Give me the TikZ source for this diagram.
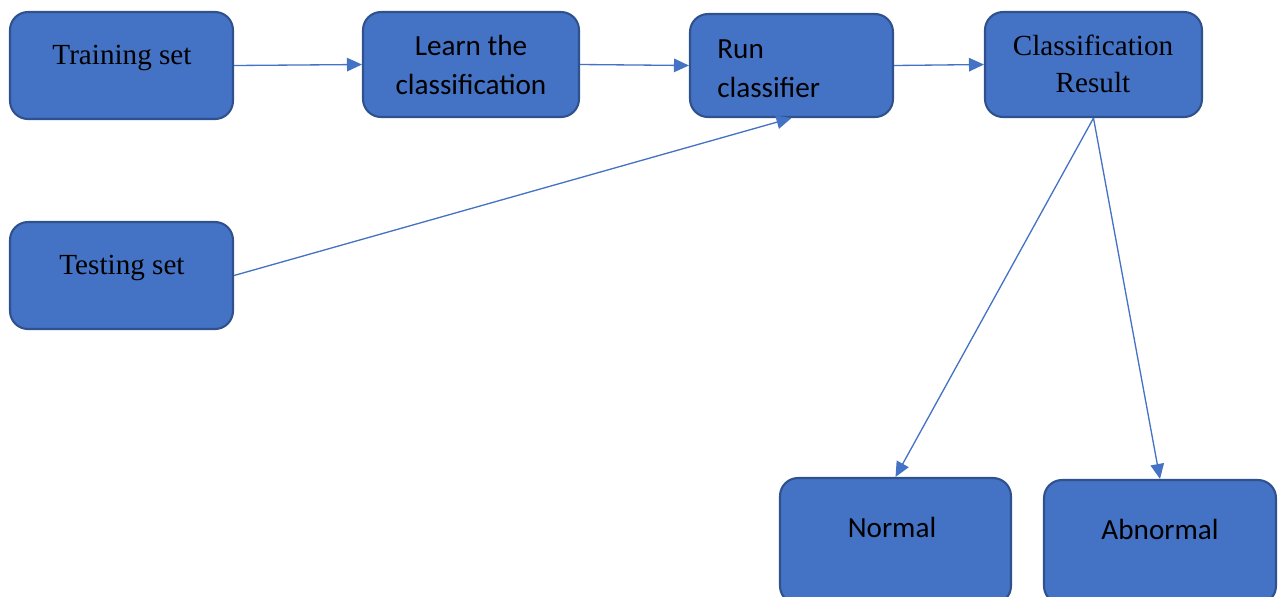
\documentclass[tikz,border=0pt]{standalone}
\usepackage{fontspec}
\setmainfont{Liberation Serif}
\newfontfamily\calibrifont{Carlito}
\usetikzlibrary{arrows.meta, calc}
\definecolor{boxfill}{RGB}{68,114,196}
\definecolor{boxline}{RGB}{47,82,143}
\definecolor{flowcol}{RGB}{68,114,196}
\tikzset{
  stepbox/.style={draw=boxline, fill=boxfill, line width=1.2pt,
    rounded corners=0.36cm, inner sep=0pt},
  serifText/.style={font=\fontsize{16.6}{21}\selectfont, align=center, anchor=base, inner sep=0pt},
  sansText/.style={font=\calibrifont\fontsize{16.6}{22}\selectfont, align=center, anchor=base, inner sep=0pt},
  flow/.style={flowcol, line width=0.75pt, -{Triangle[length=0.3cm, width=0.27cm]}}
}

\begin{document}
\begin{tikzpicture}[x=0.02cm, y=-0.02cm]

  % --- page, 1279 x 596 px --------------------------------------------------
  \useasboundingbox (0,0) rectangle (1279,596);
  \clip (0,0) rectangle (1279,596);

  % --- boxes ---------------------------------------------------------------
  \node[stepbox, minimum width=4.46cm, minimum height=2.14cm] (train)  at (121.5,65.5)  {};
  \node[stepbox, minimum width=4.32cm, minimum height=2.10cm] (learn)  at (471,64.5)    {};
  \node[stepbox, minimum width=4.06cm, minimum height=2.06cm] (run)    at (791.5,65.5)  {};
  \node[stepbox, minimum width=4.34cm, minimum height=2.10cm] (result) at (1093.5,64.5) {};
  \node[stepbox, minimum width=4.46cm, minimum height=2.14cm] (test)   at (121.5,275.5) {};
  \node[stepbox, minimum width=4.62cm, minimum height=2.52cm] (normal) at (895.5,541)   {};
  \node[stepbox, minimum width=4.64cm, minimum height=2.48cm] (abnorm) at (1160,542)    {};

  % --- box texts (base = baseline of the last line) -------------------------
  \node[serifText] (trainTxt)  at (122,64)   {Training set};
  \node[sansText]  (learnTxt)  at (471,94)   {Learn the\\classification};
  \node[sansText, align=left, anchor=base west] (runTxt) at (717,97) {Run\\classifier};
  \node[serifText] (resultTxt) at (1093,92)  {Classification\\Result};
  \node[serifText] (testTxt)   at (122,274)  {Testing set};
  \node[sansText]  (normalTxt) at (892,537)  {Normal};
  \node[sansText]  (abnormTxt) at (1160,539) {Abnormal};

  % --- connectors ----------------------------------------------------------
  \draw[flow] (train.east)  -- (learn.west);
  \draw[flow] (learn.east)  -- (run.west);
  \draw[flow] (run.east)    -- (result.west);
  \draw[flow] (test.east)   -- (run.south);
  \draw[flow] (result.south) -- (normal.north);
  \draw[flow] (result.south) -- (abnorm.north);

\end{tikzpicture}
\end{document}
